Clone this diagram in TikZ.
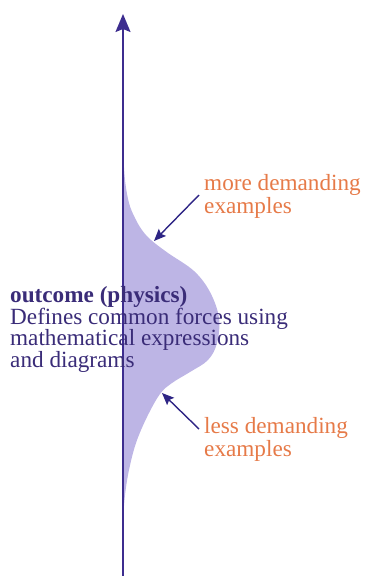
\documentclass[tikz,border=0pt]{standalone}
\usepackage{fontspec}
\setmainfont{Liberation Serif}
\usetikzlibrary{arrows.meta}
\definecolor{axiscol}{HTML}{3D2D8F}
\definecolor{bellcol}{HTML}{BDB5E5}
\definecolor{notecol}{HTML}{E67A48}
\definecolor{textcol}{HTML}{3A2C78}
\definecolor{pointcol}{HTML}{2E2585}
\tikzset{
  axisline/.style={draw=axiscol,line width=1.8pt,-{Stealth[length=18pt,width=15pt,inset=3pt]}},
  bellfill/.style={fill=bellcol},
  pointer/.style={draw=pointcol,line width=1.4pt,-{Stealth[length=12pt,width=10pt,inset=2pt]}},
  notetext/.style={text=notecol,align=left,inner sep=0pt,font=\fontsize{23.2}{22.5}\selectfont},
  outcometext/.style={text=textcol,align=left,inner sep=0pt,font=\fontsize{23.2}{21.5}\selectfont}
}
\begin{document}
\begin{tikzpicture}[x=1pt,y=-1pt]
\useasboundingbox (0,0) rectangle (369,576);
% bell shape
\fill[bellfill] plot[smooth,tension=0.6] coordinates {(123,150) (125,180) (129,203) (135,218) (142,230) (151,240) (168,253) (194,271) (210,292) (219,318) (217,343) (208,360) (190,372) (172,383) (160,394) (147,417) (136,443) (129,470) (125,495) (123,520)} -- cycle;
% axis
\coordinate (axbot) at (123,576);
\coordinate (axtop) at (123,14);
\draw[axisline] (axbot) -- (axtop);
% notes (base = baseline of last line)
\node[notetext,anchor=base west] (more) at (204,213) {more demanding\\examples};
\node[notetext,anchor=base west] (less) at (204,456) {less demanding\\examples};
\coordinate (moretip) at (154,241);
\coordinate (lesstip) at (162,393);
\coordinate (morestart) at (199,195);
\coordinate (lessstart) at (199,429);
\draw[pointer] (morestart) -- (moretip);
\draw[pointer] (lessstart) -- (lesstip);
% outcome text
\node[outcometext,anchor=base west] (outcome) at (10,367) {\textbf{outcome (physics)}\\Defines common forces using\\mathematical expressions\\and diagrams};
\end{tikzpicture}
\end{document}
